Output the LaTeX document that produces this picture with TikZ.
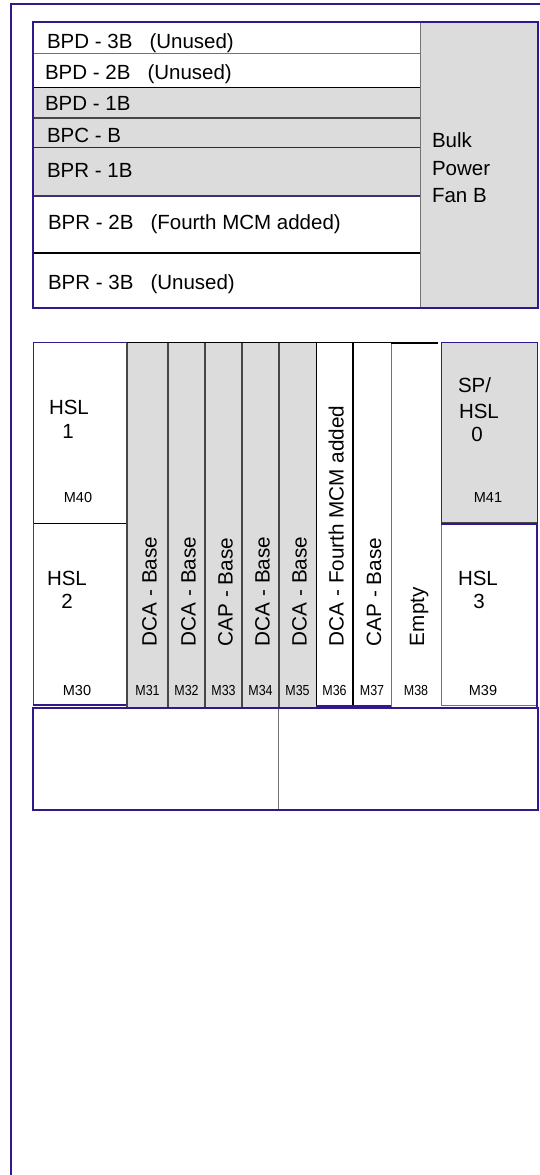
\documentclass[tikz,border=0pt]{standalone}
\usepackage{fontspec}
\setmainfont{Liberation Sans}
\newfontfamily\narrowfont[FakeStretch=0.86]{Liberation Sans}
\definecolor{purp}{RGB}{50,24,140}
\definecolor{panel}{RGB}{220,220,220}
\definecolor{midgrey}{RGB}{115,115,115}
\definecolor{darkgrey}{RGB}{70,70,70}
\definecolor{slate}{RGB}{60,50,110}
\begin{document}
\begin{tikzpicture}[x=1pt,y=-1pt,
  big/.style={font=\fontsize{20.5}{24}\selectfont, inner sep=0pt, outer sep=0pt},
  rowtext/.style={big, anchor=base west},
  ctext/.style={big, anchor=base},
  vtext/.style={font=\fontsize{20.7}{24}\selectfont, inner sep=0pt, outer sep=0pt, rotate=90, anchor=base west},
  slotlbl/.style={font=\fontsize{14.5}{16}\selectfont, inner sep=0pt},
  narrowlbl/.style={font=\narrowfont\fontsize{14.5}{16}\selectfont, inner sep=0pt},
  frame/.style={draw=purp, line width=2pt},
  thinpurp/.style={draw=purp, line width=1pt},
  thingrey/.style={draw=midgrey, line width=1pt},
  thinblack/.style={draw=black, line width=1pt},
  darkline/.style={draw=darkgrey, line width=1.2pt},
]
\useasboundingbox (0,0) rectangle (540,1175);
\fill[white] (0,0) rectangle (540,1175);
% outer frame
\draw[frame] (11,1185) -- (11,4) -- (550,4);

% ---------------- upper box ----------------
\fill[panel] (33,87) rectangle (420,196);
\fill[panel] (420,22) rectangle (538,308);
\draw[thingrey] (33,53) -- (420,53);
\draw[thinblack] (33,87) -- (420,87);
\draw[draw=darkgrey, line width=1.5pt] (33,118) -- (420,118);
\draw[thinpurp] (33,147) -- (420,147);
\draw[draw=slate, line width=1.2pt] (33,196) -- (420,196);
\draw[draw=black, line width=1.5pt] (33,253) -- (420,253);
\draw[thingrey] (420,22) -- (420,308);
\draw[frame] (33,22) rectangle (538,308);

\node[rowtext] (bpd3) at (47,48.5) {BPD - 3B\ \ \ (Unused)};
\node[rowtext] (bpd2) at (45,79) {BPD - 2B\ \ \ (Unused)};
\node[rowtext] (bpd1) at (45,110) {BPD - 1B};
\node[rowtext] (bpc) at (47,142) {BPC - B};
\node[rowtext] (bpr1) at (47,177) {BPR - 1B};
\node[rowtext] (bpr2) at (48,229) {BPR - 2B\ \ \ (Fourth MCM added)};
\node[rowtext] (bpr3) at (48,289) {BPR - 3B\ \ \ (Unused)};
\node[rowtext] (fan1) at (432,147) {Bulk};
\node[rowtext] (fan2) at (432,175) {Power};
\node[rowtext] (fan3) at (432,202) {Fan B};

% ---------------- lower section ----------------
\fill[panel] (127,342) rectangle (316,707);
\fill[panel] (441,342) rectangle (537,523);
% M40 box
\draw[thinpurp] (33,523) -- (33,342) -- (127,342);
\draw[thinblack] (33,523) -- (127,523);
% M30 box
\draw[draw=darkgrey, line width=1pt] (33,523) -- (33,705);
\draw[frame] (33,705) -- (127,705);
% column dividers
\foreach \x in {127,168,205,242,279} \draw[darkline] (\x,342) -- (\x,707);
\draw[thinblack] (316,342) -- (316,707);
\draw[draw=black,line width=1.8pt] (353,342) -- (353,707);
\draw[thingrey] (391,342) -- (391,707);
% tops and bottoms of columns
\draw[thinblack] (127,342) -- (391,342);
\draw[draw=black,line width=2pt] (391,343) -- (438,343);
\draw[thingrey] (127,707) -- (316,707);
\draw[draw=purp,line width=1.5pt] (316,706) -- (391,706);
% M41 box
\draw[thinpurp] (441,523) -- (441,342) -- (537,342) -- (537,523);
\draw[draw=darkgrey, line width=1pt] (441,522) -- (537,522);
% M39 box
\draw[thingrey] (441,523) -- (441,705) -- (537,705);
\draw[draw=purp,line width=1.5pt] (441,524) -- (537,524);
\draw[frame] (537,523) -- (537,707);
% bottom boxes
\draw[thingrey] (278,708) -- (278,810);
\draw[frame] (33,708) rectangle (538,810);

% HSL texts
\node[rowtext] (hsl1a) at (49,414) {HSL};
\node[ctext] (hsl1b) at (68,438) {1};
\node[rowtext] (hsl2a) at (47,585) {HSL};
\node[ctext] (hsl2b) at (67,608) {2};
\node[rowtext] (hsl3a) at (458,585) {HSL};
\node[ctext] (hsl3b) at (479,608) {3};
\node[rowtext] (sp0a) at (458,392) {SP/};
\node[rowtext] (sp0b) at (459,418) {HSL};
\node[ctext] (sp0c) at (477,441) {0};

% slot labels
\node[slotlbl] (m40) at (78,498) {M40};
\node[slotlbl] (m41) at (488,498) {M41};
\node[slotlbl] (m30) at (77,690) {M30};
\node[slotlbl] (m39) at (483,690) {M39};
\node[narrowlbl] (m31) at (147.5,690) {M31};
\node[narrowlbl] (m32) at (186.5,690) {M32};
\node[narrowlbl] (m33) at (223.5,690) {M33};
\node[narrowlbl] (m34) at (260.5,690) {M34};
\node[narrowlbl] (m35) at (297.5,690) {M35};
\node[narrowlbl] (m36) at (334.5,690) {M36};
\node[narrowlbl] (m37) at (372,690) {M37};
\node[narrowlbl] (m38) at (416,690) {M38};

% vertical card texts
\node[vtext] (c31) at (156.5,646) {DCA - Base};
\node[vtext] (c32) at (195.5,646) {DCA - Base};
\node[vtext] (c33) at (232.5,646) {CAP - Base};
\node[vtext] (c34) at (269.5,646) {DCA - Base};
\node[vtext] (c35) at (306.5,646) {DCA - Base};
\node[vtext] (c36) at (343.5,646) {DCA - Fourth MCM added};
\node[vtext] (c37) at (381,646) {CAP - Base};
\node[vtext] (c38) at (424,646) {Empty};
\end{tikzpicture}
\end{document}
